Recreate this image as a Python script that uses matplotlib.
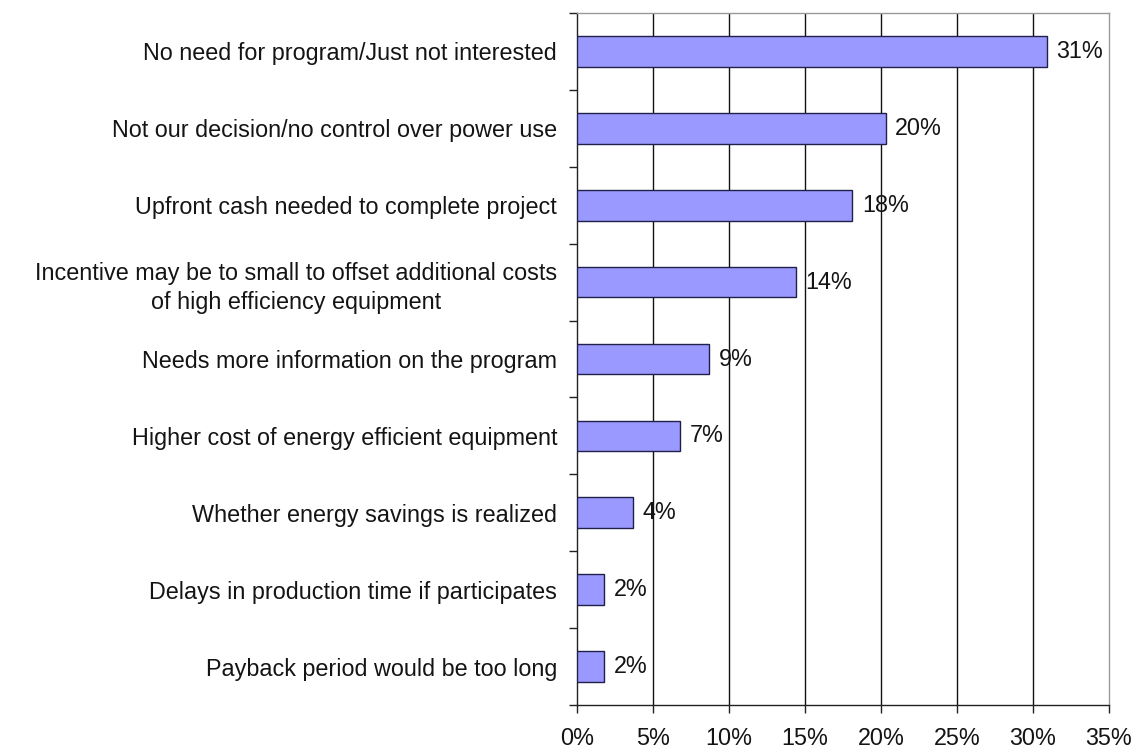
import matplotlib
matplotlib.use("Agg")
import matplotlib.pyplot as plt
import numpy as np

categories = [
    "No need for program/Just not interested",
    "Not our decision/no control over power use",
    "Upfront cash needed to complete project",
    "Incentive may be to small to offset additional costs\nof high efficiency equipment",
    "Needs more information on the program",
    "Higher cost of energy efficient equipment",
    "Whether energy savings is realized",
    "Delays in production time if participates",
    "Payback period would be too long",
]
shares = [30.9, 20.3, 18.1, 14.4, 8.7, 6.8, 3.7, 1.8, 1.8]
x_ticks = [0, 5, 10, 15, 20, 25, 30, 35]

plt.rcParams["font.family"] = ["Liberation Sans", "DejaVu Sans"]
FS = 16.8

fig = plt.figure(figsize=(11.36, 7.51), dpi=100)
ax = fig.add_axes([577 / 1136, 1 - 705 / 751, (1109 - 577) / 1136, (705 - 13) / 751])

y = np.arange(len(categories))
ax.barh(y, shares, height=0.4, color="#9999ff", edgecolor="#20204a",
        linewidth=1.0, zorder=3)

for yi, v in zip(y, shares):
    ax.annotate(f"{v:.0f}%", (v, yi), xytext=(7, 0), textcoords="offset points",
                va="center", ha="left", fontsize=FS, color="#141414", zorder=4)

ax.set_xlim(0, 35)
ax.set_ylim(len(categories) - 0.5, -0.5)
ax.set_xticks(x_ticks)
ax.set_xticklabels([f"{t}%" for t in x_ticks], fontsize=FS, color="#141414")
ax.set_yticks(y)
ax.set_yticklabels(categories, fontsize=FS, ha="right", multialignment="center",
                   color="#141414", linespacing=1.35)
ax.tick_params(axis="y", which="major", length=0, pad=14.4)
ax.set_yticks(np.arange(len(categories) + 1) - 0.5, minor=True)
ax.tick_params(axis="y", which="minor", length=5.8, width=1, color="#222222",
               direction="out")
ax.tick_params(axis="x", length=5.8, width=1, color="#222222", direction="out",
               pad=10)

for t in x_ticks[1:-1]:
    ax.axvline(t, color="#111111", linewidth=1.0, zorder=1)

for side in ("left", "bottom"):
    ax.spines[side].set_color("#222222")
    ax.spines[side].set_linewidth(1.0)
for side in ("top", "right"):
    ax.spines[side].set_color("#9a9a9a")
    ax.spines[side].set_linewidth(1.0)

fig.savefig("out.png", dpi=100)
